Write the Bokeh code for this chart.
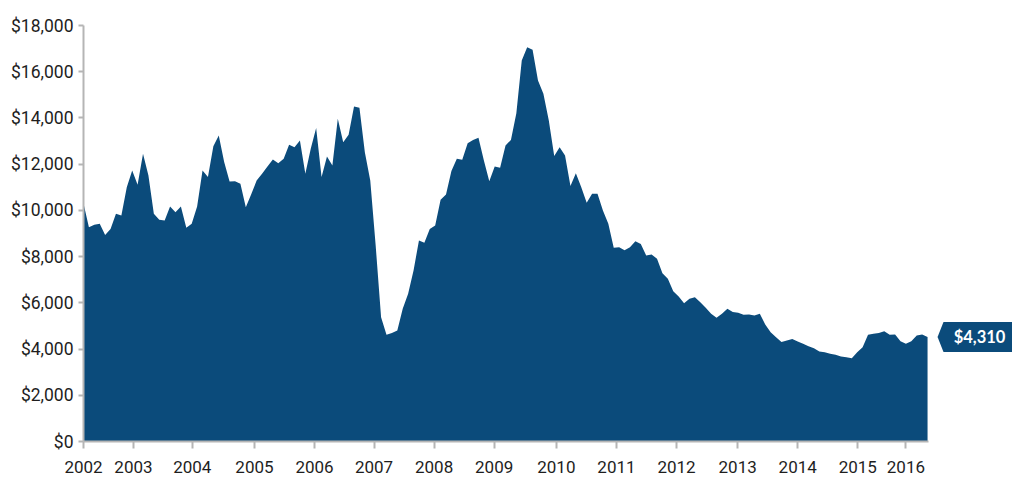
from bokeh.plotting import figure
from bokeh.models import (ColumnDataSource, FixedTicker, NumeralTickFormatter,
                          Range1d, Label, PolyAnnotation)
from bokeh.embed import file_html
from bokeh.resources import INLINE

# ---- data ----
values = [
    10300, 9270, 9380, 9420, 8940, 9200, 9850, 9780, 11000, 11730,
    11110, 12450, 11510, 9850, 9590, 9560, 10170, 9920, 10170, 9250,
    9420, 10170, 11730, 11440, 12770, 13240, 12090, 11250, 11260, 11150,
    10140, 10700, 11290, 11580, 11900, 12200, 12040, 12230, 12840, 12730,
    13020, 11580, 12670, 13560, 11440, 12330, 11940, 13960, 12950, 13270,
    14500, 14440, 12520, 11290, 8480, 5380, 4620, 4700, 4800, 5740,
    6390, 7400, 8700, 8600, 9200, 9350, 10460, 10690, 11700, 12230,
    12190, 12910, 13050, 13140, 12160, 11260, 11900, 11840, 12810, 13050,
    14200, 16490, 17060, 16950, 15620, 15050, 13890, 12350, 12730, 12380,
    11050, 11610, 11000, 10330, 10720, 10720, 10000, 9420, 8380, 8410,
    8270, 8410, 8670, 8550, 8050, 8090, 7910, 7280, 7040, 6500,
    6270, 5980, 6180, 6240, 6030, 5790, 5530, 5350, 5530, 5740,
    5600, 5570, 5480, 5500, 5450, 5530, 5060, 4730, 4510, 4300,
    4370, 4440, 4330, 4230, 4120, 4040, 3890, 3860, 3800, 3750,
    3680, 3650, 3600, 3860, 4080, 4620, 4660, 4700, 4770, 4620,
    4630, 4340, 4230, 4340, 4590, 4630, 4520,
]
period = list(range(len(values)))

year_labels = ["2002", "2003", "2004", "2005", "2006", "2007", "2008", "2009",
               "2010", "2011", "2012", "2013", "2014", "2015", "2016"]
year_ticks = [0, 9.23, 20.1, 31.6, 42.7, 53.7, 64.8, 75.9,
              87.4, 98.5, 109.6, 120.9, 132.0, 143.1, 152.0]
y_ticks = [0, 2000, 4000, 6000, 8000, 10000, 12000, 14000, 16000, 18000]
last_label = "$4,310"

# ---- styling ----
BLUE = "#0b4b7b"
AXIS_GRAY = "#b5b5b5"
TICK_FONT = "Roboto"
RIGHT_PAD = 15.7  # room (in x units) to the right of the data for the callout

source = ColumnDataSource(dict(x=period, v=values))

p = figure(width=1012, height=481, output_backend="svg", toolbar_location=None,
           x_range=Range1d(period[0], period[-1] + RIGHT_PAD),
           y_range=Range1d(0, 18000),
           min_border_left=83, min_border_right=0, min_border_top=25,
           min_border_bottom=40)
p.outline_line_color = None
p.grid.visible = False
p.background_fill_color = "white"
p.border_fill_color = "white"

p.varea(x="x", y1=0, y2="v", source=source, fill_color=BLUE, fill_alpha=1.0)

# x axis
xa = p.xaxis[0]
xa.bounds = (period[0], period[-1] + 0.2)
xa.ticker = FixedTicker(ticks=year_ticks)
xa.major_label_overrides = {t: lab for t, lab in zip(year_ticks, year_labels)}
xa.axis_line_color = AXIS_GRAY
xa.axis_line_width = 2
xa.major_tick_line_color = AXIS_GRAY
xa.major_tick_line_width = 2
xa.major_tick_in = 0
xa.major_tick_out = 7
xa.minor_tick_line_color = None
xa.major_label_standoff = 12
xa.major_label_text_font = TICK_FONT
xa.major_label_text_font_size = "17px"
xa.major_label_text_color = "#1e1e1e"

# y axis
ya = p.yaxis[0]
ya.ticker = FixedTicker(ticks=y_ticks)
ya.formatter = NumeralTickFormatter(format="$0,0")
ya.axis_line_color = AXIS_GRAY
ya.axis_line_width = 2
ya.major_tick_line_color = AXIS_GRAY
ya.major_tick_line_width = 2
ya.major_tick_in = 0
ya.major_tick_out = 5
ya.minor_tick_line_color = None
ya.major_label_standoff = 5
ya.major_label_text_font = TICK_FONT
ya.major_label_text_font_size = "17.5px"
ya.major_label_text_color = "#1e1e1e"

# callout for last value
xl, vl = period[-1], values[-1]
half_h = 650
callout = PolyAnnotation(
    xs=[xl + 1.85, xl + 2.95, xl + RIGHT_PAD, xl + RIGHT_PAD, xl + 2.95],
    ys=[vl, vl + half_h, vl + half_h, vl - half_h, vl - half_h],
    fill_color=BLUE, fill_alpha=1.0, line_color=None)
p.add_layout(callout)
p.add_layout(Label(x=xl + 9.6, y=vl, text=last_label, text_align="center",
                   text_baseline="middle", text_color="white",
                   text_font="Lato", text_font_style="bold",
                   text_font_size="16.5px"))

open("out.html", "w").write(file_html(p, INLINE))
